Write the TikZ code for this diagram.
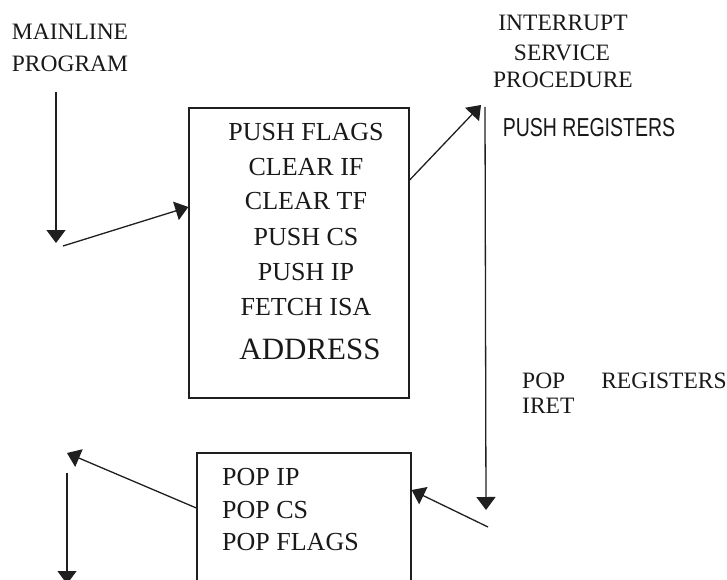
\documentclass[tikz,border=0pt]{standalone}
\usepackage{fontspec}
\setmainfont{Liberation Serif}
\newfontfamily\narrowsans[FakeStretch=0.75]{Liberation Sans}
\usetikzlibrary{arrows.meta}
\tikzset{
  arr/.style={line width=1.3bp, draw=black!88, -{Triangle[width=19bp,length=13bp]}},
  boxstyle/.style={draw=black!88, line width=1.3bp, inner sep=0pt},
  lbl/.style={inner sep=0pt, font=\fontsize{23.5bp}{26bp}\selectfont, text=black!90},
  boxtxt/.style={inner sep=0pt, font=\fontsize{26bp}{28bp}\selectfont, text=black!90},
  bigtxt/.style={inner sep=0pt, font=\fontsize{31bp}{33bp}\selectfont, text=black!90},
  sanstxt/.style={inner sep=0pt, font=\narrowsans\fontsize{26bp}{28bp}\selectfont, text=black!90}
}
\begin{document}
\begin{tikzpicture}[x=1bp,y=-1bp]
\useasboundingbox (0,0) rectangle (727,580);
\clip (0,0) rectangle (727,580);

% boxes
\node[boxstyle, minimum width=220bp, minimum height=290bp] (bigbox) at (299,253) {};
\node[boxstyle, minimum width=214bp, minimum height=167bp] (smallbox) at (304,536.5) {};

% labels
\node[lbl] (main1) at (70,32) {MAINLINE};
\node[lbl] (main2) at (70,64) {PROGRAM};
\node[lbl] (isp1) at (563,23) {INTERRUPT};
\node[lbl] (isp2) at (562,53) {SERVICE};
\node[lbl] (isp3) at (563,80) {PROCEDURE};
\node[sanstxt] (pushreg) at (589,128) {PUSH REGISTERS};
\node[lbl, anchor=west] (popreg) at (522,381) {POP\hspace{36bp}REGISTERS};
\node[lbl, anchor=west] (iret) at (522,406) {IRET};

% big box text
\node[boxtxt] (t1) at (306,132) {PUSH FLAGS};
\node[boxtxt] (t2) at (306,167) {CLEAR IF};
\node[boxtxt] (t3) at (306,201) {CLEAR TF};
\node[boxtxt] (t4) at (306,237) {PUSH CS};
\node[boxtxt] (t5) at (306,272) {PUSH IP};
\node[boxtxt] (t6) at (306,307) {FETCH ISA};
\node[bigtxt] (t7) at (310,349) {ADDRESS};

% small box text
\node[boxtxt, anchor=west] (s1) at (222,477) {POP IP};
\node[boxtxt, anchor=west] (s2) at (222,510) {POP CS};
\node[boxtxt, anchor=west] (s3) at (222,542) {POP FLAGS};

% coordinates
\coordinate (m1) at (56,92);
\coordinate (m2) at (56,243);
\coordinate (m3) at (63,246);
\coordinate (r1) at (481,105);
\coordinate (v1) at (485,107);
\coordinate (v2) at (486,510);
\coordinate (b1) at (488,527);
\coordinate (l1) at (67,453);
\coordinate (d1) at (67,473);
\coordinate (d2) at (67,584);

% connectors
\draw[arr] (m1) -- (m2);
\draw[arr] (m3) -- ([yshift=46bp]bigbox.west);
\draw[arr] ([yshift=73bp]bigbox.east) -- (r1);
\draw[arr] (v1) -- (v2);
\draw[arr] (b1) -- ([yshift=46.5bp]smallbox.east);
\draw[arr] ([yshift=28.5bp]smallbox.west) -- (l1);
\draw[arr] (d1) -- (d2);
\end{tikzpicture}
\end{document}
